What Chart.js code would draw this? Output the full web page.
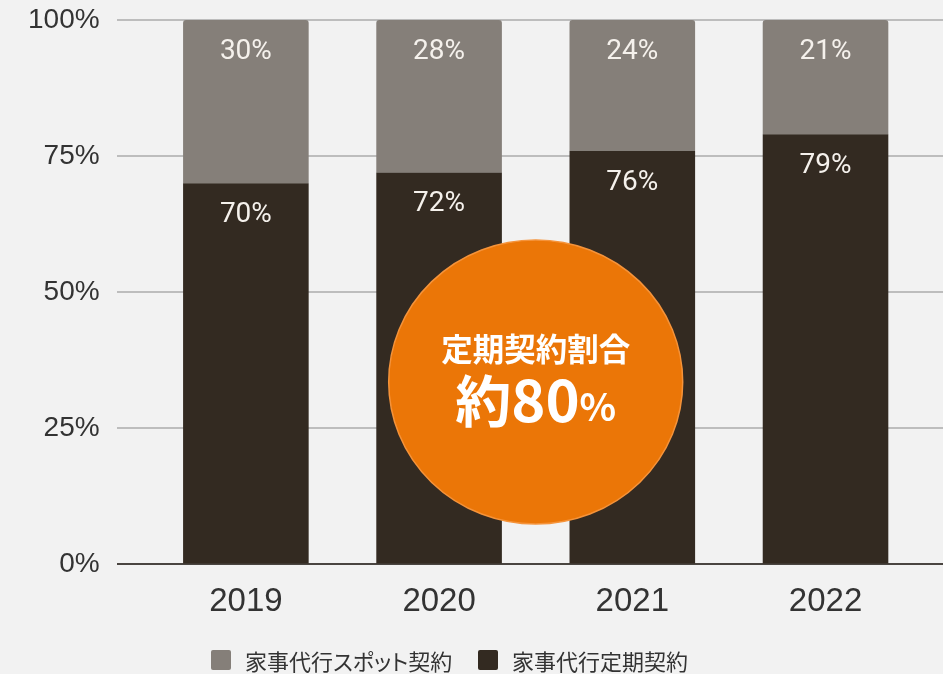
<!DOCTYPE html>
<html><head><meta charset="utf-8">
<script src="https://cdn.jsdelivr.net/npm/chart.js@4.4.0/dist/chart.umd.min.js"></script>
<style>
html,body{margin:0;padding:0;background:#f2f2f2;}
#wrap{position:relative;width:943px;height:674px;overflow:hidden;background:#f2f2f2;}
canvas{position:absolute;left:0;top:0;}
#legend{position:absolute;top:646px;left:0;width:943px;height:28px;font-family:"Noto Sans CJK JP","Noto Sans",sans-serif;font-size:22px;color:#333;font-feature-settings:"palt";}
.item{position:absolute;top:0;display:flex;align-items:center;height:28px;white-space:nowrap;}
.box{width:20px;height:20px;border-radius:2px;margin-right:14px;flex:none;}
</style></head>
<body><div id="wrap"><canvas id="c" width="943" height="674"></canvas><div id="legend"></div></div>
<script>
const years = ['2019', '2020', '2021', '2022'];
const spotShare = [30, 28, 24, 21];
const regularShare = [70, 72, 76, 79];
const seriesNames = ['家事代行スポット契約', '家事代行定期契約'];
const yTickValues = [0, 25, 50, 75, 100];
const calloutTitle = '定期契約割合';
const calloutPrefix = '約';
const calloutNumber = '80';
const calloutUnit = '%';

const GRAY = '#857f79';
const DARK = '#332a21';
const ORANGE = '#eb7607';

const valueLabels = {
  id: 'valueLabels',
  afterDatasetsDraw(chart) {
    const ctx = chart.ctx;
    ctx.save();
    ctx.fillStyle = '#f5f1ec';
    ctx.font = '28px Roboto';
    ctx.textAlign = 'center';
    ctx.textBaseline = 'middle';
    chart.data.datasets.forEach((ds, di) => {
      const meta = chart.getDatasetMeta(di);
      meta.data.forEach((el, i) => {
        ctx.fillText(ds.data[i].y + '%', el.x, el.y + 32);
      });
    });
    ctx.restore();
  }
};

const callout = {
  id: 'callout',
  afterDatasetsDraw(chart) {
    const ctx = chart.ctx;
    const xs = chart.scales.x, ys = chart.scales.y;
    const cx = xs.getPixelForValue(1.5);
    const cy = ys.getPixelForValue(33.5);
    ctx.save();
    ctx.beginPath();
    ctx.ellipse(cx, cy, 147, 142, 0, 0, Math.PI * 2);
    ctx.fillStyle = ORANGE;
    ctx.fill();
    ctx.lineWidth = 1.5;
    ctx.strokeStyle = '#f5933a';
    ctx.stroke();
    ctx.fillStyle = '#ffffff';
    ctx.textBaseline = 'middle';
    ctx.textAlign = 'center';
    ctx.font = 'bold 31.5px "Noto Sans CJK JP"';
    ctx.fillText(calloutTitle, cx, cy - 33);
    const f1 = 'bold 56px "Noto Sans CJK JP"';
    const f2 = 'bold 58px "Noto Sans CJK JP"';
    const f3 = 'bold 38px "Noto Sans CJK JP"';
    ctx.font = f1; const w1 = ctx.measureText(calloutPrefix).width;
    ctx.font = f2; const w2 = ctx.measureText(calloutNumber).width;
    ctx.font = f3; const w3 = ctx.measureText(calloutUnit).width;
    let x = cx - (w1 + w2 + w3) / 2;
    const base = cy + 40;
    ctx.textAlign = 'left';
    ctx.textBaseline = 'alphabetic';
    ctx.font = f1; ctx.fillText(calloutPrefix, x, base); x += w1;
    ctx.font = f2; ctx.fillText(calloutNumber, x, base); x += w2;
    ctx.font = f3; ctx.fillText(calloutUnit, x, base - 1);
    ctx.restore();
  }
};

const chart = new Chart(document.getElementById('c'), {
  type: 'bar',
  data: {
    datasets: [
      {
        label: seriesNames[1],
        data: regularShare.map((v, i) => ({ x: i, y: v })),
        backgroundColor: DARK,
        borderWidth: 0,
        barPercentage: 1,
        categoryPercentage: 0.65
      },
      {
        label: seriesNames[0],
        data: spotShare.map((v, i) => ({ x: i, y: v })),
        backgroundColor: GRAY,
        borderWidth: 0,
        borderRadius: { topLeft: 3, topRight: 3, bottomLeft: 0, bottomRight: 0 },
        borderSkipped: false,
        barPercentage: 1,
        categoryPercentage: 0.65
      }
    ]
  },
  options: {
    responsive: false,
    devicePixelRatio: 1,
    animation: false,
    layout: { padding: { left: 11, right: 0, top: 20, bottom: 34 } },
    plugins: { legend: { display: false }, tooltip: { enabled: false } },
    scales: {
      x: {
        type: 'linear',
        offset: false,
        min: -0.669,
        max: 3.608,
        stacked: true,
        grid: { display: false, drawTicks: false, offset: false },
        border: { display: false },
        afterBuildTicks: (s) => { s.ticks = years.map((_, i) => ({ value: i })); },
        afterFit: (s) => { s.paddingLeft = 0; s.paddingRight = 0; },
        ticks: {
          autoSkip: false,
          maxRotation: 0,
          padding: 18,
          color: '#333333',
          font: { family: '"Liberation Sans", Arial, sans-serif', size: 33 },
          callback: (v) => years[v] ?? ''
        }
      },
      y: {
        min: 0,
        max: 100,
        stacked: true,
        afterBuildTicks: (s) => { s.ticks = yTickValues.map(v => ({ value: v })); },
        afterFit: (s) => { s.paddingTop = 0; s.paddingBottom = 0; },
        grid: {
          drawTicks: false,
          lineWidth: 2,
          color: (c) => (c.tick && c.tick.value === 0) ? '#4a4541' : '#bdbdbd'
        },
        border: { display: false },
        ticks: {
          padding: 17,
          color: '#333333',
          font: { family: '"Liberation Sans", Arial, sans-serif', size: 28 },
          callback: (v) => v + '%'
        }
      }
    }
  },
  plugins: [valueLabels, callout]
});

const legend = document.getElementById('legend');
const legendItems = [
  { name: seriesNames[0], color: GRAY, left: 211 },
  { name: seriesNames[1], color: DARK, left: 478 }
];
legendItems.forEach(it => {
  const d = document.createElement('div');
  d.className = 'item';
  d.style.left = it.left + 'px';
  const b = document.createElement('span');
  b.className = 'box';
  b.style.background = it.color;
  const t = document.createElement('span');
  t.textContent = it.name;
  d.appendChild(b); d.appendChild(t);
  legend.appendChild(d);
});
</script>
</body></html>
